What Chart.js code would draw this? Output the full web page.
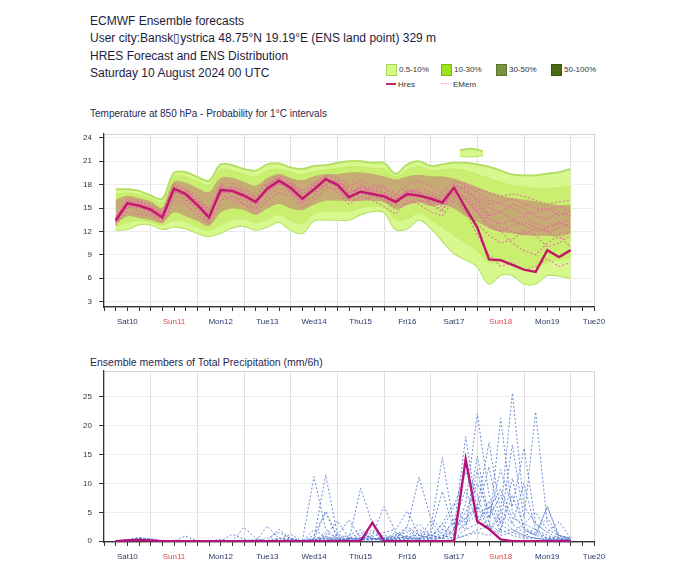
<!DOCTYPE html>
<html>
<head>
<meta charset="utf-8">
<script src="https://cdn.jsdelivr.net/npm/chart.js@4.4.1/dist/chart.umd.min.js"></script>
<style>
body { margin: 0; width: 700px; height: 572px; background: #fff; position: relative; overflow: hidden;
       font-family: "Liberation Sans", Arial, sans-serif; color: #1d1d3d; }
.hdr { position: absolute; left: 90px; top: 13px; font-size: 12px; line-height: 17.3px; }
.ttl { position: absolute; left: 90px; font-size: 10px; color: #1f2a50; }
.lg { position: absolute; font-size: 8px; color: #333; white-space: nowrap; line-height: 12px; }
.bx { display: inline-block; width: 9px; height: 10px; border: 1px solid; vertical-align: top; margin-right: 2px; }
.ln { display: inline-block; width: 10px; vertical-align: middle; margin-right: 2px; margin-top: -2px; }
canvas { position: absolute; left: 0; }
</style>
</head>
<body>
<div class="hdr">ECMWF Ensemble forecasts<br>User city:Bansk&#x25AF;ystrica 48.75°N 19.19°E (ENS land point) 329 m<br>HRES Forecast and ENS Distribution<br>Saturday 10 August 2024 00 UTC</div>

<div class="lg" style="left:386px;top:64px"><span class="bx" style="background:#d4fb82;border-color:#a9d35a"></span>0.5-10%</div>
<div class="lg" style="left:441px;top:64px"><span class="bx" style="background:#9be41c;border-color:#7cbc10"></span>10-30%</div>
<div class="lg" style="left:496px;top:64px"><span class="bx" style="background:#7a9142;border-color:#5d7530"></span>30-50%</div>
<div class="lg" style="left:551px;top:64px"><span class="bx" style="background:#4b6a12;border-color:#3a560a"></span>50-100%</div>
<div class="lg" style="left:386px;top:79px"><span class="ln" style="border-top:2px solid #c2266a"></span>Hres</div>
<div class="lg" style="left:441px;top:79px"><span class="ln" style="border-top:1px dotted #e8a6c4"></span>EMem</div>

<div class="ttl" style="top:108px">Temperature at 850 hPa - Probability for 1°C intervals</div>
<div class="ttl" style="top:356px;font-size:10.5px">Ensemble members of Total Precipitation (mm/6h)</div>

<canvas id="tempChart" width="700" height="241" style="top:96px"></canvas>
<canvas id="precChart" width="700" height="232" style="top:340px"></canvas>

<script>
const dayLabels = ["Sat10", "Sun11", "Mon12", "Tue13", "Wed14", "Thu15", "Fri16", "Sat17", "Sun18", "Mon19", "Tue20"];
const hours = [6, 12, 18, 24, 30, 36, 42, 48, 54, 60, 66, 72, 78, 84, 90, 96, 102, 108, 114, 120,
               126, 132, 138, 144, 150, 156, 162, 168, 174, 180, 186, 192, 198, 204, 210, 216, 222, 228, 234, 240];
const tempTicks = [3, 6, 9, 12, 15, 18, 21, 24];
const precTicks = [0, 5, 10, 15, 20, 25];

// T850 HRES
const hresTemp = [13.4, 15.6, 15.3, 14.8, 13.8, 17.5, 16.8, 15.4, 13.8, 17.3, 17.2, 16.6, 15.8, 17.5, 18.5, 17.6, 16.2, 17.4, 18.7, 18.0,
                  16.4, 17.1, 16.8, 16.5, 15.8, 16.8, 16.6, 16.2, 15.7, 17.6, 15.0, 12.5, 8.4, 8.3, 7.7, 7.1, 6.8, 9.6, 8.7, 9.6];
// outer envelope (0.5-10%)
const outerHi = [17.4, 17.4, 17.2, 16.6, 16.2, 19.5, 19.6, 19.0, 18.5, 20.6, 20.5, 20.0, 19.8, 20.6, 20.7, 20.2, 20.0, 20.4, 20.5, 20.8,
                 21.0, 21.0, 20.8, 20.8, 19.4, 20.6, 21.0, 20.4, 20.6, 20.8, 20.8, 20.6, 20.3, 19.8, 19.3, 19.2, 19.2, 19.4, 19.6, 20.0];
const outerLo = [12.2, 12.3, 12.9, 12.9, 12.3, 12.6, 12.4, 11.8, 11.4, 11.8, 12.5, 12.7, 12.2, 12.6, 13.2, 12.2, 11.8, 13.4, 13.5, 13.5,
                 13.5, 14.2, 14.6, 14.5, 12.3, 12.4, 13.5, 12.5, 10.8, 9.2, 8.4, 7.5, 5.3, 6.4, 6.4, 5.3, 5.3, 6.4, 6.3, 6.0];
// 10-30% ring
const midHi = [16.8, 16.9, 16.7, 16.2, 15.7, 19.0, 19.0, 18.4, 18.0, 19.9, 19.8, 19.3, 19.0, 19.8, 20.0, 19.6, 19.3, 19.7, 19.9, 20.1,
               20.3, 20.3, 20.1, 20.0, 19.0, 19.9, 20.3, 19.8, 19.9, 20.0, 19.8, 19.3, 18.8, 18.3, 17.9, 17.7, 17.5, 17.5, 17.6, 17.8];
const midLo = [12.6, 13.1, 13.4, 13.2, 12.8, 13.4, 13.2, 12.6, 12.1, 12.8, 13.5, 13.6, 13.1, 13.6, 14.2, 13.4, 13.0, 14.3, 14.6, 14.6,
               14.6, 15.0, 15.2, 15.0, 13.5, 13.6, 14.4, 13.5, 12.5, 11.5, 10.5, 9.5, 8.0, 8.2, 8.0, 7.4, 7.5, 8.0, 8.4, 8.5];
// core of the distribution
const coreHi = [16.0, 16.5, 16.2, 15.8, 15.0, 18.3, 18.2, 17.5, 17.0, 18.8, 18.8, 18.3, 17.8, 18.8, 19.3, 18.8, 18.5, 19.0, 19.3, 19.3,
                19.5, 19.5, 19.3, 19.0, 18.6, 19.0, 19.2, 19.0, 19.0, 18.7, 18.2, 17.6, 17.0, 16.5, 16.2, 16.0, 15.8, 15.5, 15.3, 15.3];
const coreLo = [13.0, 14.0, 13.8, 13.5, 13.2, 14.5, 14.0, 13.4, 12.8, 14.5, 15.0, 14.8, 14.2, 15.0, 15.6, 15.0, 14.8, 15.5, 16.0, 16.0,
                16.0, 16.0, 16.0, 15.8, 15.0, 15.5, 15.8, 15.3, 15.5, 15.0, 14.0, 13.3, 12.5, 12.0, 11.8, 11.6, 11.5, 11.5, 11.5, 11.8];
// small detached patch above Sat17/Sun18
const islandHours = [183, 189, 195];
const islandHi = [22.4, 22.6, 22.3];
const islandLo = [21.7, 21.6, 21.8];

const tempMembers = [
  [13.2, 15.0, 15.6, 15.0, 14.2, 16.8, 17.2, 16.0, 14.5, 16.5, 17.8, 17.0, 16.2, 17.0, 18.0, 18.2, 17.0, 17.0, 18.0, 18.5,
   17.5, 17.0, 17.8, 17.5, 16.5, 17.0, 17.5, 17.0, 16.5, 17.5, 17.0, 16.0, 15.0, 14.5, 15.5, 15.0, 14.0, 13.5, 14.5, 14.0],
  [13.8, 16.2, 16.0, 15.2, 14.0, 17.8, 16.0, 14.8, 13.2, 17.8, 16.5, 16.0, 15.0, 18.0, 19.0, 17.0, 15.5, 18.0, 19.0, 17.5,
   16.0, 18.0, 17.0, 16.0, 15.5, 17.5, 17.0, 15.5, 14.5, 18.0, 17.5, 16.0, 14.0, 12.5, 12.0, 11.5, 12.5, 12.0, 11.0, 12.0],
  [14.0, 15.2, 14.6, 14.2, 13.5, 16.5, 16.2, 15.0, 14.0, 16.8, 16.0, 15.5, 14.8, 16.5, 17.5, 17.0, 15.8, 16.5, 18.0, 17.0,
   15.5, 16.5, 16.0, 15.2, 14.2, 16.0, 15.5, 14.5, 14.0, 16.0, 14.5, 13.0, 11.5, 10.5, 11.0, 12.0, 11.5, 10.0, 10.5, 11.5],
  [13.5, 16.0, 15.8, 15.5, 14.5, 18.2, 17.5, 16.5, 14.8, 18.0, 18.2, 17.5, 16.5, 18.5, 19.2, 18.5, 17.2, 18.2, 19.2, 19.0,
   17.8, 18.5, 18.0, 17.8, 16.8, 18.0, 18.5, 17.8, 17.0, 18.5, 18.0, 17.5, 17.0, 16.5, 16.8, 16.5, 16.0, 15.5, 15.8, 16.0],
  [12.8, 14.5, 14.2, 14.0, 13.0, 16.0, 15.5, 14.2, 13.0, 16.0, 16.5, 15.5, 14.2, 16.0, 17.0, 16.5, 15.0, 16.0, 17.5, 17.5,
   16.0, 16.0, 16.5, 16.0, 14.8, 15.5, 16.0, 15.5, 14.8, 16.5, 16.0, 14.5, 13.0, 12.0, 10.5, 9.5, 9.0, 10.5, 11.5, 10.0],
  [13.0, 15.5, 15.0, 14.5, 13.5, 17.0, 17.0, 15.8, 14.2, 17.5, 17.5, 16.8, 15.5, 17.8, 18.8, 18.0, 16.8, 17.8, 18.5, 18.2,
   17.0, 17.5, 17.2, 16.8, 16.0, 17.2, 17.0, 16.5, 16.0, 17.0, 16.2, 15.0, 13.5, 13.0, 13.5, 14.0, 13.0, 12.5, 13.0, 13.5],
  [13.6, 15.8, 15.2, 14.8, 14.2, 17.2, 16.5, 15.2, 13.5, 17.0, 17.0, 16.2, 15.5, 17.2, 18.2, 17.2, 16.0, 17.5, 18.5, 18.5,
   16.8, 17.8, 17.5, 17.0, 16.2, 16.5, 16.0, 15.8, 15.2, 17.0, 16.5, 15.5, 14.0, 14.5, 13.5, 12.8, 12.0, 12.5, 13.2, 12.5],
  [13.2, 15.2, 15.0, 14.6, 13.6, 17.2, 16.6, 15.0, 13.6, 17.0, 17.0, 16.4, 15.6, 17.2, 18.2, 17.4, 16.0, 17.2, 18.4, 17.8,
   16.2, 16.8, 16.6, 16.2, 15.6, 16.6, 16.4, 16.0, 15.4, 16.8, 14.5, 11.5, 9.0, 7.5, 8.0, 7.0, 7.5, 8.5, 7.5, 8.0],
  [13.6, 15.8, 15.5, 15.0, 14.0, 17.7, 17.0, 15.6, 14.0, 17.5, 17.4, 16.8, 16.0, 17.7, 18.7, 17.8, 16.4, 17.6, 18.9, 18.2,
   16.6, 17.3, 17.0, 16.7, 16.0, 17.0, 16.8, 16.4, 15.9, 17.8, 16.2, 14.5, 12.5, 12.0, 12.8, 13.2, 12.5, 12.0, 12.5, 13.0],
  [13.3, 15.4, 15.1, 14.6, 13.7, 17.3, 16.6, 15.2, 13.6, 17.1, 17.0, 16.4, 15.6, 17.3, 18.3, 17.4, 16.0, 17.2, 18.5, 17.8,
   16.2, 16.9, 16.6, 16.3, 15.6, 16.6, 16.4, 16.0, 15.5, 17.4, 17.8, 17.0, 16.0, 15.5, 15.0, 14.2, 14.5, 15.0, 14.0, 14.5],
  [13.5, 15.9, 15.6, 15.1, 14.3, 17.9, 17.3, 16.0, 14.4, 17.8, 17.7, 17.1, 16.3, 18.0, 18.9, 18.1, 16.7, 17.9, 19.0, 18.5,
   17.0, 17.6, 17.3, 17.0, 16.3, 17.2, 17.1, 16.7, 16.2, 18.0, 17.2, 16.5, 15.5, 15.8, 16.2, 15.5, 15.0, 14.8, 15.2, 14.6]
];

// precipitation mm/6h
const hresPrec = [0, 0.1, 0.2, 0.1, 0, 0, 0, 0, 0, 0,  0, 0, 0, 0, 0, 0, 0, 0, 0, 0,
                  0, 0, 3.2, 0, 0, 0, 0, 0, 0, 0,  14.2, 3.4, 2.1, 0.3, 0, 0, 0, 0, 0, 0];
const precMembers = [
  [0, 0.3, 0.4, 0.2, 0, 0, 0, 0, 0, 0,  0, 0, 0, 0, 0.5, 0.2, 0, 11.2, 2.0, 0.5,
   0.3, 1.0, 0.5, 0.2, 0.8, 0.4, 1.5, 0.8, 3.0, 1.0,  6.5, 22.1, 8.0, 3.0, 1.5, 0.8, 0.5, 0.3, 0.2, 0.1],
  [0, 0.2, 0.6, 0.3, 0, 0, 0.9, 0, 0, 0,  0, 0, 0, 0, 0, 0, 0, 0.5, 11.5, 1.2,
   0.5, 0.3, 0.2, 1.0, 0.5, 0.8, 0.5, 2.0, 14.5, 2.5,  4.0, 6.0, 17.1, 5.0, 25.7, 6.0, 3.0, 1.5, 0.5, 0.2],
  [0, 0.1, 0.5, 0.4, 0, 0, 0, 0, 0, 0,  1.2, 0.3, 0, 2.6, 0.5, 0, 0, 1.0, 5.2, 0.8,
   0.2, 9.2, 3.0, 0.5, 1.0, 2.5, 11.1, 4.0, 2.0, 1.0,  3.0, 6.0, 2.0, 21.3, 5.0, 2.0, 1.0, 6.0, 1.0, 0.3],
  [0, 0.2, 0.3, 0.2, 0, 0, 0, 0, 0, 0,  0, 0, 0, 0, 2.1, 0.3, 0, 0, 0, 1.0,
   3.7, 0.5, 1.0, 6.0, 1.5, 0.5, 0.3, 1.2, 8.6, 2.0,  18.1, 5.0, 12.9, 3.0, 16.7, 4.0, 22.4, 3.0, 1.0, 0.5],
  [0, 0, 0.2, 0.1, 0, 0, 0, 0, 0, 0,  0, 0, 0, 0, 0, 0, 0, 2.0, 0.8, 0.3,
   0, 0.5, 0.8, 1.5, 2.0, 5.2, 1.0, 0.5, 3.0, 6.6,  3.0, 14.7, 4.0, 12.4, 6.0, 16.1, 3.0, 1.5, 3.4, 0.5],
  [0, 0.1, 0.4, 0.3, 0, 0, 0, 0, 0, 0,  0, 2.4, 0.5, 0, 0.3, 1.2, 0, 0.5, 0.5, 0,
   0.3, 0.5, 2.0, 0.5, 0.2, 1.0, 2.0, 1.0, 0.5, 4.0,  2.0, 12.4, 3.0, 1.5, 10.9, 2.0, 1.0, 6.0, 0.5, 0.2],
  [0, 0.2, 0.5, 0.2, 0, 0, 0, 0, 0, 0.3,  0, 0, 0, 0.5, 1.5, 0.5, 0, 0.3, 5.0, 0.5,
   1.0, 2.0, 0.5, 0, 0.5, 2.0, 0.5, 3.5, 1.0, 0.5,  1.0, 2.0, 2.5, 1.0, 1.5, 3.0, 2.0, 0.5, 0.5, 0.2],
  [0, 0.1, 0.3, 0.2, 0, 0, 0, 0, 0, 0,  0, 0, 0, 0, 0, 0, 0, 0, 0.8, 0.3,
   0.2, 0.2, 0.5, 0.3, 0.5, 0.8, 1.0, 0.5, 0.5, 1.5,  3.0, 4.5, 2.0, 5.0, 3.0, 1.5, 2.0, 1.0, 0.3, 0.2],
  [0, 0, 0.3, 0.1, 0, 0, 0, 0, 0, 0,  0, 0, 0, 0, 0, 0, 0, 0.3, 0.3, 0.2,
   0.5, 0.3, 0.3, 0.5, 0.2, 0.5, 0.5, 1.0, 2.0, 6.0,  12.0, 8.0, 2.0, 4.0, 2.0, 1.0, 0.5, 0.3, 0.2, 0.2],
  [0, 0.2, 0.5, 0.3, 0, 0, 0, 0, 0, 0,  0, 0, 0, 0, 0, 0, 0, 0, 0, 0,
   0, 0, 0, 0, 0, 0, 0, 0, 1.0, 2.0,  4.0, 6.0, 4.0, 8.0, 3.0, 10.0, 2.0, 4.0, 1.0, 0.5],
  [0, 0, 0.2, 0.2, 0, 0, 0, 0, 0, 0,  0, 0, 0, 0, 0.5, 0.3, 0, 0, 1.5, 0.5,
   0, 0.2, 0.5, 0.3, 1.5, 0.5, 0.3, 0.5, 1.0, 0.5,  2.0, 3.0, 6.0, 1.5, 2.0, 1.0, 1.5, 0.5, 0.3, 0],
  [0, 0.1, 0.2, 0.1, 0, 0, 0, 0, 0, 0,  0, 0, 0, 0, 0, 0, 0, 0, 0, 0,
   0, 0.5, 0.3, 0.2, 0.3, 0.3, 0.5, 0.2, 0.5, 0.3,  1.0, 1.5, 1.0, 2.0, 1.0, 0.5, 0.5, 0.2, 0.1, 0],
  [0, 0.2, 0.6, 0.3, 0, 0, 0, 0, 0, 0,  0, 0, 0.3, 0, 0, 0, 0, 0.2, 1.0, 3.5,
   0.5, 0.5, 1.5, 0.2, 0.5, 2.5, 1.0, 0.5, 1.5, 3.0,  9.0, 3.0, 7.0, 2.0, 8.0, 2.5, 1.0, 0.5, 0.8, 0.3],
  [0, 0.1, 0.3, 0.2, 0, 0, 0, 0, 0, 0,  0, 0, 0, 0, 0, 0.5, 0, 0.2, 0.5, 0.2,
   0.5, 1.5, 0.5, 0.3, 1.0, 1.5, 3.0, 1.0, 0.5, 2.0,  5.0, 10.0, 5.5, 9.0, 4.0, 3.0, 5.0, 2.0, 1.0, 0.5]
];

const pts = (xs, ys) => xs.map((x, i) => ({ x: x, y: ys[i] }));

// every 6 h along the time axis, labels sit at noon
const xTicks = [];
for (let h = 0; h <= 252; h += 6) xTicks.push(h);

const boxBorder = {
  id: "boxBorder",
  beforeDraw(chart) {
    const { ctx, chartArea: a } = chart;
    ctx.save();
    ctx.strokeStyle = "#d4d4d4";
    ctx.lineWidth = 1;
    ctx.strokeRect(a.left + 0.5, a.top + 0.5, a.right - a.left, a.bottom - a.top);
    ctx.restore();
  }
};

function xScale() {
  return {
    type: "linear",
    min: 0,
    max: 252,
    afterBuildTicks: (s) => { s.ticks = xTicks.map((v) => ({ value: v })); },
    afterFit: (s) => { s.height = 30; },
    border: { display: true, color: "#333", width: 1.2 },
    grid: {
      color: (c) => (c.tick && c.tick.value % 24 === 0 ? "#dedede" : "rgba(0,0,0,0)"),
      tickColor: "#333",
      tickLength: 4,
      drawTicks: true
    },
    ticks: {
      autoSkip: false,
      maxRotation: 0,
      padding: 6,
      font: { family: "Liberation Sans", size: 8 },
      color: (c) => {
        const v = c.tick ? c.tick.value : 0;
        if (v % 24 === 12 && dayLabels[(v - 12) / 24].startsWith("Sun")) return "#e2474b";
        return "#2a3868";
      },
      callback: (v) => (v % 24 === 12 ? dayLabels[(v - 12) / 24] : "")
    }
  };
}

function yScale(min, max, tickList) {
  return {
    min: min,
    max: max,
    afterBuildTicks: (s) => { s.ticks = tickList.map((v) => ({ value: v })); },
    afterFit: (s) => { s.width = 30; },
    border: { display: true, color: "#333", width: 1.2 },
    grid: { color: "#ececec", tickColor: "#333", tickLength: 5 },
    ticks: { padding: 7, font: { family: "Liberation Sans", size: 8 }, color: "#333" }
  };
}

const line = (data, color, width, dash) => ({
  data: data,
  borderColor: color,
  borderWidth: width,
  borderDash: dash || [],
  pointRadius: 0,
  fill: false,
  tension: 0
});

const band = (xs, hi, lo, fillColor, edge, edgeWidth, tension) => [
  { data: pts(xs, hi), borderColor: edge, borderWidth: edgeWidth, backgroundColor: fillColor, fill: "+1", pointRadius: 0, tension: tension },
  { data: pts(xs, lo), borderColor: edge, borderWidth: edgeWidth, fill: false, pointRadius: 0, tension: tension }
];

// ---- temperature chart ----
// first dataset is painted last, so HRES goes first and the widest band last
const tempSets = [line(pts(hours, hresTemp), "#c2186a", 2.4)];
tempMembers.forEach((m) => tempSets.push(line(pts(hours, m), "rgba(230,105,160,0.9)", 1.1, [2, 2])));
tempSets.push(
  ...band(hours, coreHi, coreLo, "#c6ab74", "#c4ad70", 1, 0.35),
  ...band(hours, midHi, midLo, "#c9ee70", "#c6ec68", 1, 0.35),
  ...band(islandHours, islandHi, islandLo, "#d6f88c", "#b4df66", 2, 0.4),
  ...band(hours, outerHi, outerLo, "#d6f88c", "#b4df66", 2, 0.35)
);

new Chart(document.getElementById("tempChart").getContext("2d"), {
  type: "line",
  data: { datasets: tempSets },
  options: {
    responsive: false,
    animation: false,
    layout: { padding: { left: 74, right: 106, top: 38, bottom: 0 } },
    scales: { x: xScale(), y: yScale(2.3, 24.5, tempTicks) },
    plugins: { legend: { display: false }, tooltip: { enabled: false } }
  },
  plugins: [boxBorder]
});

// ---- precipitation chart ----
const precSets = [line(pts(hours, hresPrec), "#b3147a", 2.4)];
precMembers.forEach((m) => precSets.push(line(pts(hours, m), "rgba(82,120,206,0.85)", 1, [2, 2])));

new Chart(document.getElementById("precChart").getContext("2d"), {
  type: "line",
  data: { datasets: precSets },
  options: {
    responsive: false,
    animation: false,
    layout: { padding: { left: 74, right: 106, top: 31, bottom: 0 } },
    scales: { x: xScale(), y: yScale(-0.15, 29.5, precTicks) },
    plugins: { legend: { display: false }, tooltip: { enabled: false } }
  },
  plugins: [boxBorder]
});
</script>
</body>
</html>
